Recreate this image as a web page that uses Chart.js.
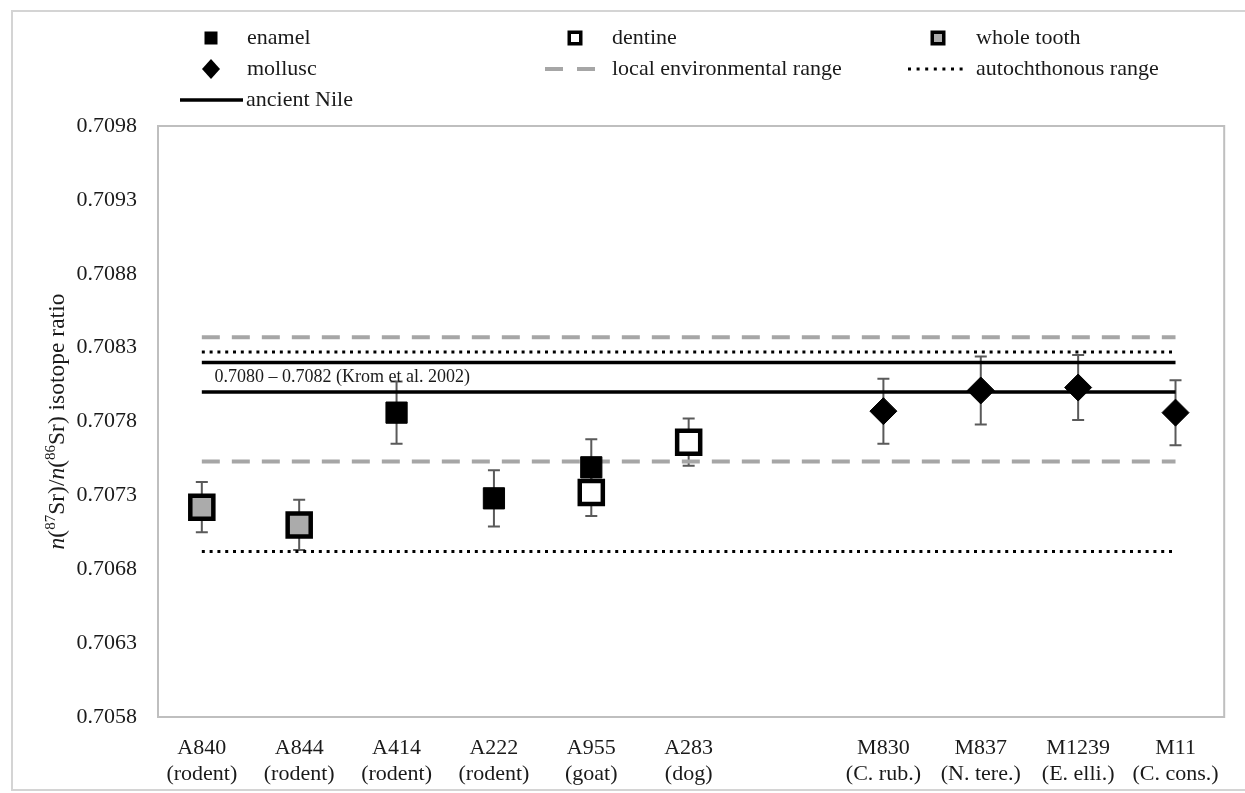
<!DOCTYPE html>
<html>
<head>
<meta charset="utf-8">
<script src="https://cdn.jsdelivr.net/npm/chart.js@4.4.1/dist/chart.umd.min.js"></script>
<style>
  html, body { margin: 0; padding: 0; background: #fff; }
  #wrap { position: relative; width: 1245px; height: 793px; overflow: hidden; }
  #frame { position: absolute; left: 11px; top: 10px; width: 1260px; height: 781px;
           border: 2px solid #d4d4d4; box-sizing: border-box; }
  canvas { position: absolute; left: 0; top: 0; }
</style>
</head>
<body>
<div id="wrap">
  <div id="frame"></div>
  <canvas id="srChart" width="1245" height="793"></canvas>
</div>
<script>
// Sample labels and positions along the x axis
const samples = ['A840', 'A844', 'A414', 'A222', 'A955', 'A283', 'M830', 'M837', 'M1239', 'M11'];
const sampleNotes = ['(rodent)', '(rodent)', '(rodent)', '(rodent)', '(goat)', '(dog)',
                     '(C. rub.)', '(N. tere.)', '(E. elli.)', '(C. cons.)'];
const samplePos = [1, 2, 3, 4, 5, 6, 8, 9, 10, 11];

// y axis ticks
const yTicks = [0.7058, 0.7063, 0.7068, 0.7073, 0.7078, 0.7083, 0.7088, 0.7093, 0.7098];

// measured ratios (value +/- error)
const enamelX = [3, 4, 5];
const enamelY = [0.70786, 0.70728, 0.70749];
const enamelErr = [0.00021, 0.00019, 0.00019];

const dentineX = [5, 6];
const dentineY = [0.70732, 0.70766];
const dentineErr = [0.00016, 0.00016];

const wholeX = [1, 2];
const wholeY = [0.70722, 0.70710];
const wholeErr = [0.00017, 0.00017];

const molluscX = [8, 9, 10, 11];
const molluscY = [0.70787, 0.70801, 0.70803, 0.70786];
const molluscErr = [0.00022, 0.00023, 0.00022, 0.00022];

// reference ranges [low, high]
const localEnvRange = [0.70753, 0.70837];
const autochthonousRange = [0.70692, 0.70827];
const ancientNile = [0.7080, 0.7082];
const rangeX = [1, 11];

const SERIF = "'Liberation Serif', 'Times New Roman', serif";
const TEXT = '#1a1a1a';
const GREY_DASH = '#a6a6a6';

function points(xs, ys) {
  return xs.map((x, i) => ({ x: x, y: ys[i] }));
}
function hline(v) {
  return [{ x: rangeX[0], y: v }, { x: rangeX[1], y: v }];
}

const lineSets = [];
localEnvRange.forEach(v => lineSets.push({
  data: hline(v), showLine: true, pointRadius: 0, borderColor: GREY_DASH,
  borderWidth: 4, borderDash: [18, 12], order: 3
}));
autochthonousRange.forEach(v => lineSets.push({
  data: hline(v), showLine: true, pointRadius: 0, borderColor: '#000',
  borderWidth: 3, borderDash: [3, 4.8], order: 3
}));
ancientNile.forEach(v => lineSets.push({
  data: hline(v), showLine: true, pointRadius: 0, borderColor: '#000',
  borderWidth: 3.5, order: 3
}));

// ==========================
// error bars, drawn under the markers
// ==========================
const errorBars = {
  id: 'errorBars',
  beforeDatasetsDraw(chart) {
    const ctx = chart.ctx;
    const xs = chart.scales.x, ys = chart.scales.y;
    ctx.save();
    ctx.strokeStyle = '#5a5a5a';
    ctx.lineWidth = 2;
    chart.data.datasets.forEach(ds => {
      if (!ds.errors) return;
      ds.data.forEach((p, i) => {
        const px = xs.getPixelForValue(p.x);
        const top = ys.getPixelForValue(p.y + ds.errors[i]);
        const bot = ys.getPixelForValue(p.y - ds.errors[i]);
        ctx.beginPath();
        ctx.moveTo(px, top); ctx.lineTo(px, bot);
        ctx.moveTo(px - 6, top); ctx.lineTo(px + 6, top);
        ctx.moveTo(px - 6, bot); ctx.lineTo(px + 6, bot);
        ctx.stroke();
      });
    });
    ctx.restore();
  }
};

// ==========================
// plot frame, legend, texts
// ==========================
function drawRich(ctx, parts, x, y) {
  let total = 0;
  parts.forEach(p => { ctx.font = p.font; p.w = ctx.measureText(p.t).width; total += p.w; });
  let cx = x - total / 2;
  parts.forEach(p => { ctx.font = p.font; ctx.fillText(p.t, cx, y + (p.dy || 0)); cx += p.w; });
}

function drawSquare(ctx, cx, cy, size, fill, border) {
  ctx.fillStyle = '#000';
  ctx.fillRect(cx - size / 2, cy - size / 2, size, size);
  if (fill) {
    ctx.fillStyle = fill;
    ctx.fillRect(cx - size / 2 + border, cy - size / 2 + border, size - 2 * border, size - 2 * border);
  }
}

const decorations = {
  id: 'decorations',
  beforeDatasetsDraw(chart) {
    const ctx = chart.ctx, a = chart.chartArea;
    ctx.save();
    ctx.strokeStyle = '#bfbfbf';
    ctx.lineWidth = 2;
    ctx.strokeRect(a.left, a.top, a.right - a.left, a.bottom - a.top);
    ctx.restore();
  },
  afterDraw(chart) {
    const ctx = chart.ctx;
    const xs = chart.scales.x, ys = chart.scales.y;
    ctx.save();
    ctx.fillStyle = TEXT;
    ctx.textBaseline = 'middle';

    // range note
    ctx.font = '18px ' + SERIF;
    ctx.textAlign = 'left';
    ctx.fillText('0.7080 \u2013 0.7082 (Krom et al. 2002)',
      xs.getPixelForValue(1.13), ys.getPixelForValue((ancientNile[0] + ancientNile[1]) / 2));

    // y axis title
    ctx.save();
    ctx.translate(58, (chart.chartArea.top + chart.chartArea.bottom) / 2);
    ctx.rotate(-Math.PI / 2);
    const f = '23.5px ' + SERIF, fi = 'italic 23.5px ' + SERIF, fs = '15px ' + SERIF;
    drawRich(ctx, [
      { t: 'n', font: fi }, { t: '(', font: f }, { t: '87', font: fs, dy: -7 },
      { t: 'Sr)/', font: f }, { t: 'n', font: fi }, { t: '(', font: f },
      { t: '86', font: fs, dy: -7 }, { t: 'Sr) isotope ratio', font: f }
    ], 0, 0);
    ctx.restore();

    // legend
    ctx.font = '22px ' + SERIF;
    ctx.textAlign = 'left';
    const rows = [38, 69, 100];
    drawSquare(ctx, 211, rows[0], 13, null, 0);
    ctx.fillStyle = TEXT; ctx.fillText('enamel', 247, rows[0]);
    drawSquare(ctx, 575, rows[0], 15, '#fff', 3.5);
    ctx.fillStyle = TEXT; ctx.fillText('dentine', 612, rows[0]);
    drawSquare(ctx, 938, rows[0], 15, '#ababab', 3.5);
    ctx.fillStyle = TEXT; ctx.fillText('whole tooth', 976, rows[0]);

    ctx.fillStyle = '#000';
    ctx.beginPath();
    ctx.moveTo(211, rows[1] - 10); ctx.lineTo(220, rows[1]);
    ctx.lineTo(211, rows[1] + 10); ctx.lineTo(202, rows[1]);
    ctx.closePath(); ctx.fill();
    ctx.fillStyle = TEXT; ctx.fillText('mollusc', 247, rows[1]);

    ctx.strokeStyle = GREY_DASH; ctx.lineWidth = 4;
    ctx.beginPath();
    ctx.moveTo(545, rows[1]); ctx.lineTo(563, rows[1]);
    ctx.moveTo(577, rows[1]); ctx.lineTo(595, rows[1]);
    ctx.stroke();
    ctx.fillText('local environmental range', 612, rows[1]);

    ctx.strokeStyle = '#000'; ctx.lineWidth = 3;
    ctx.setLineDash([3, 5.6]);
    ctx.beginPath(); ctx.moveTo(908, rows[1]); ctx.lineTo(968, rows[1]); ctx.stroke();
    ctx.setLineDash([]);
    ctx.fillText('autochthonous range', 976, rows[1]);

    ctx.lineWidth = 3.5;
    ctx.beginPath(); ctx.moveTo(180, rows[2]); ctx.lineTo(243, rows[2]); ctx.stroke();
    ctx.fillText('ancient Nile', 246, rows[2]);
    ctx.restore();
  }
};

const ctx = document.getElementById('srChart').getContext('2d');

new Chart(ctx, {
  type: 'scatter',
  data: {
    datasets: [
      {
        label: 'dentine', data: points(dentineX, dentineY), errors: dentineErr,
        pointStyle: 'rect', pointRadius: 16.3, backgroundColor: '#fff',
        borderColor: '#000', borderWidth: 4.5, order: 0
      },
      {
        label: 'enamel', data: points(enamelX, enamelY), errors: enamelErr,
        pointStyle: 'rect', pointRadius: 15, backgroundColor: '#000',
        borderColor: '#000', borderWidth: 1, order: 1
      },
      {
        label: 'whole tooth', data: points(wholeX, wholeY), errors: wholeErr,
        pointStyle: 'rect', pointRadius: 16.3, backgroundColor: '#ababab',
        borderColor: '#000', borderWidth: 4.5, order: 1
      },
      {
        label: 'mollusc', data: points(molluscX, molluscY), errors: molluscErr,
        pointStyle: 'rectRot', pointRadius: 13.5, backgroundColor: '#000',
        borderColor: '#000', borderWidth: 1, order: 1
      },
      ...lineSets
    ]
  },
  options: {
    responsive: false,
    animation: false,
    events: [],
    layout: { padding: { top: 126, right: 15, left: 0, bottom: 0 } },
    plugins: { legend: { display: false }, tooltip: { enabled: false } },
    scales: {
      x: {
        type: 'linear', min: 0.55, max: 11.5,
        grid: { display: false }, border: { display: false },
        afterBuildTicks: s => { s.ticks = samplePos.map(v => ({ value: v })); },
        afterFit: s => { s.height = 76; },
        ticks: {
          autoSkip: false, maxRotation: 0, minRotation: 0, padding: 10,
          color: TEXT, font: { family: SERIF, size: 22 },
          callback: (v, i) => [samples[i], sampleNotes[i]]
        }
      },
      y: {
        type: 'linear', min: 0.7058, max: 0.7098,
        grid: { display: false, drawTicks: false }, border: { display: false },
        afterBuildTicks: s => { s.ticks = yTicks.map(v => ({ value: v })); },
        afterFit: s => { s.width = 158; },
        ticks: {
          padding: 21, color: TEXT, font: { family: SERIF, size: 22 },
          callback: v => v.toFixed(4)
        }
      }
    }
  },
  plugins: [errorBars, decorations]
});
</script>
</body>
</html>
